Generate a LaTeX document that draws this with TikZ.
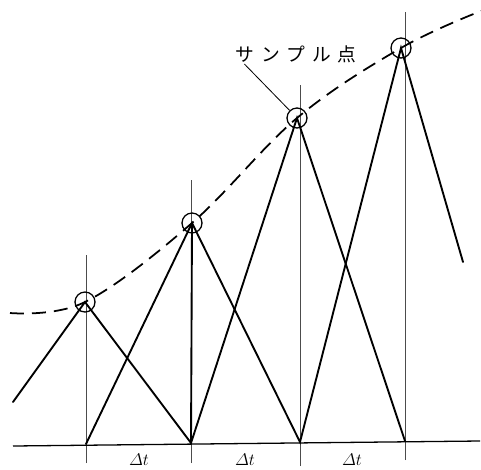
\documentclass[tikz,border=0pt]{standalone}
\usepackage{fontspec}
\newfontfamily\jpfont{Noto Sans CJK JP}
\begin{document}
\begin{tikzpicture}[x=0.03cm, y=-0.03cm,
  tick/.style={draw=black!70, line width=0.8pt},
  zig/.style={line width=1.6pt, line cap=round},
  base/.style={line width=1.1pt},
  curve/.style={line width=1.5pt, dash pattern=on 0.42cm off 0.24cm},
  smp/.style={circle, draw, line width=1.1pt, minimum size=0.6cm, inner sep=0pt},
  lead/.style={line width=0.7pt},
  dt/.style={font=\fontsize{15}{17}\selectfont, inner sep=0pt, anchor=base},
  tag/.style={font=\jpfont\fontsize{16}{18}\selectfont, inner sep=1pt}
]
\useasboundingbox (0,0) rectangle (481,469);
\coordinate (s1) at (85,302);
\coordinate (s2) at (192,223);
\coordinate (s3) at (297,118);
\coordinate (s4) at (401,48);
\coordinate (b1) at (86,444);
\coordinate (b2) at (191,443);
\coordinate (b3) at (300,442);
\coordinate (b4) at (405,441);
\coordinate (le) at (13,402);
\coordinate (re) at (463,262);
\coordinate (cl) at (10,313);
\coordinate (cr) at (481,11);
\coordinate (xl) at (13,446);
\coordinate (xr) at (480,441);

\draw[tick] (86,463) -- (86,255);
\draw[tick] (191,463) -- (191,180);
\draw[tick] (300,466) -- (300,85);
\draw[tick] (405,460) -- (405,12);
\draw[base] (xl) -- (xr);

\draw[zig] (le) -- (s1) -- (b2) -- (s3) -- (b4);
\draw[zig] (b1) -- (s2) -- (b3) -- (s4) -- (re);
\draw[zig] (s2) -- (b2);

\draw[curve] plot[smooth, tension=0.6] coordinates {(cl) (s1) (s2) (s3) (s4) (cr)};

\foreach \i in {1,...,4}
  \node[smp] (c\i) at (s\i) {};

\node[tag] (lbl) at (296,54) {サ\kern2mm ン\kern2mm プ\kern2mm ル\kern2mm 点};
\draw[lead] ([xshift=3mm]lbl.south west) -- (c3);

\node[dt] (d1) at (139,465) {$\mathnormal{\Delta}t$};
\node[dt] (d2) at (245,465) {$\mathnormal{\Delta}t$};
\node[dt] (d3) at (352,465) {$\mathnormal{\Delta}t$};
\end{tikzpicture}
\end{document}
